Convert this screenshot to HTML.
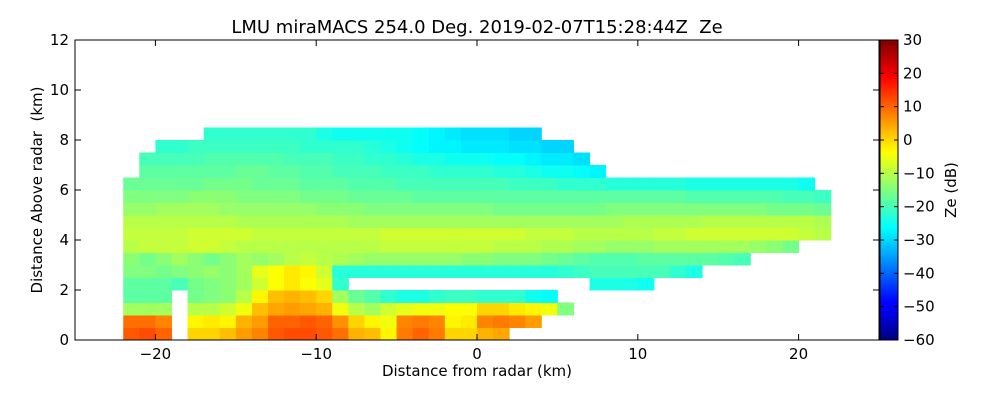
<!DOCTYPE html>
<html><head><meta charset="utf-8"><style>
html,body{margin:0;padding:0;background:#fff;}
svg{display:block;font-family:"DejaVu Sans","Liberation Sans",sans-serif;}
text{white-space:pre;}
</style></head><body>
<svg id="chart" width="1000" height="400" viewBox="0 0 1000 400">
<text x="477" y="33" font-size="18" text-anchor="middle" xml:space="preserve">LMU miraMACS 254.0 Deg. 2019-02-07T15:28:44Z  Ze</text>
<g id="cells"></g>
<rect x="75" y="40" width="804" height="300" fill="none" stroke="#000" stroke-width="1"/>
<g id="axes"></g>
<text x="477" y="376" font-size="15" text-anchor="middle">Distance from radar (km)</text>
<text transform="translate(42,190) rotate(-90)" font-size="15" text-anchor="middle" xml:space="preserve">Distance Above radar  (km)</text>
<defs><linearGradient id="jetg" x1="0" y1="1" x2="0" y2="0">
<stop offset="0" stop-color="#00007f"/><stop offset="0.11" stop-color="#0000ff"/><stop offset="0.125" stop-color="#0000ff"/><stop offset="0.34" stop-color="#00dfff"/><stop offset="0.375" stop-color="#00ffff"/><stop offset="0.5" stop-color="#7fff7f"/><stop offset="0.625" stop-color="#ffff00"/><stop offset="0.66" stop-color="#ffdf00"/><stop offset="0.875" stop-color="#ff0000"/><stop offset="1" stop-color="#7f0000"/>
</linearGradient></defs>
<rect x="880" y="40" width="18" height="300" fill="url(#jetg)" stroke="#000" stroke-width="1"/>
<g id="cbar"></g>
<text transform="translate(956,190) rotate(-90)" font-size="15" text-anchor="middle">Ze (dB)</text>
</svg>
<script>
const _ = null;
const xTicks = [-20,-10,0,10,20];
const yTicks = [0,2,4,6,8,10,12];
const cbTicks = [30,20,10,0,-10,-20,-30,-40,-50,-60];
const xStart = -22, dx = 1, dh = 0.5;
// rows bottom-up: h 0-0.5, 0.5-1, ...; columns x=-22..21
const row0 = [11,12,10,_,0,0,2,5,7,11,12,12,11,9,3,2,-3,8,10,8,0,0,3,4];
const row1 = [9,9,7,_,-3,-2,-3,3,5,10,10,11,10,6,0,-3,-5,7,8,7,-3,-2,7,8,7,5];
const row2 = [-12,-12,-12,_,-10,-10,-8,-5,2,4,5,4,3,-5,-10,-12,-8,-6,-5,-5,-4,-4,0,0,-2,-3,-5,-15];
const row3 = [-18,-18,-18,_,-16,-15,-14,-10,-3,2,3,2,0,-12,-17,-19,-22,-24,-24,-22,-21,-21,-22,-22,-22,-25,-26];
const row4 = [-18,-18,-18,-20,-16,-15,-14,-12,-8,-4,-2,-4,-6,-22,_,_,_,_,_,_,_,_,_,_,_,_,_,_,_,-24,-24,-24,-25];
const row5 = [-15,-15,-16,-15,-14,-13,-14,-12,-6,-4,-2,-3,-8,-23,-23,-23,-23,-23,-23,-23,-23,-23,-23,-23,-23,-23,-23,-22,-21,-20,-20,-20,-20,-20,-22,-24];
const row6 = [-14,-16,-14,-12,-14,-16,-14,-12,-13,-12,-10,-9,-10,-11,-12,-13,-13,-13,-13,-13,-13,-14,-14,-15,-15,-15,-16,-17,-18,-19,-19,-19,-18,-18,-18,-18,-18,-19,-20];
const row7 = [-10,-9,-9,-9,-8,-8,-9,-10,-10,-10,-10,-10,-10,-10,-10,-10,-9,-9,-9,-9,-9,-9,-9,-10,-10,-10,-11,-11,-12,-12,-13,-13,-13,-12,-12,-12,-12,-12,-12,-13,-14,-16];
const row8 = [-9,-9,-9,-9,-8,-8,-8,-8,-9,-9,-9,-9,-9,-9,-9,-9,-8,-8,-8,-8,-8,-8,-8,-8,-8,-9,-9,-9,-10,-10,-10,-10,-10,-9,-9,-8,-8,-8,-8,-8,-8,-8,-9,-10];
const row9 = [-10,-10,-10,-10,-10,-10,-10,-11,-11,-11,-11,-11,-11,-11,-12,-12,-12,-12,-12,-12,-12,-12,-12,-12,-12,-12,-12,-12,-12,-12,-12,-11,-11,-11,-11,-11,-10,-10,-10,-10,-10,-10,-10,-11];
const row10 = [-13,-13,-12,-12,-12,-12,-13,-13,-13,-13,-13,-13,-14,-14,-14,-15,-15,-15,-15,-15,-15,-15,-15,-16,-16,-16,-16,-16,-16,-16,-15,-15,-15,-15,-15,-15,-15,-15,-15,-15,-16,-16,-16,-17];
const row11 = [-15,-15,-15,-15,-14,-14,-14,-15,-15,-15,-15,-16,-16,-16,-17,-17,-17,-17,-18,-18,-18,-18,-18,-18,-18,-18,-18,-18,-18,-18,-18,-18,-18,-18,-18,-19,-19,-19,-19,-19,-19,-20,-20,-21];
const row12 = [-17,-17,-17,-17,-17,-16,-16,-16,-17,-17,-17,-18,-18,-18,-19,-19,-19,-20,-20,-20,-20,-20,-20,-20,-21,-21,-21,-22,-22,-22,-23,-23,-23,-23,-23,-24,-24,-24,-24,-24,-24,-24,-25];
const row13 = [_,-18,-18,-18,-18,-18,-18,-17,-17,-18,-18,-19,-19,-20,-20,-20,-21,-21,-21,-22,-22,-22,-22,-23,-23,-24,-25,-25,-26,-27];
const row14 = [_,-20,-20,-20,-20,-19,-19,-19,-19,-19,-20,-20,-20,-21,-21,-22,-22,-23,-24,-24,-25,-25,-25,-26,-26,-27,-28,-28,-29];
const row15 = [_,_,-22,-22,-21,-21,-21,-21,-21,-21,-21,-22,-22,-22,-22,-23,-24,-25,-26,-27,-27,-28,-28,-28,-29,-29,-30,-30];
const row16 = [_,_,_,_,_,-22,-22,-22,-22,-22,-22,-22,-24,-25,-25,-25,-25,-25,-26,-27,-28,-29,-29,-29,-30,-30];
const rows = [row0,row1,row2,row3,row4,row5,row6,row7,row8,row9,row10,row11,row12,row13,row14,row15,row16];

const X0=75, X1=879, Y0=340, Y1=40;
const xs = v => X0 + (v + 25) / 50 * (X1 - X0);
const ys = v => Y0 - v / 12 * (Y0 - Y1);
const cs = v => 340 - (v + 60) / 90 * 300;
const cl = v => Math.max(0, Math.min(1, v));
function jet(v){
  const t = (v + 60) / 90;
  const r = cl(1.5 - Math.abs(4*t - 3)), g = cl(1.5 - Math.abs(4*t - 2)), b = cl(1.5 - Math.abs(4*t - 1));
  return `rgb(${Math.round(r*255)},${Math.round(g*255)},${Math.round(b*255)})`;
}
const NS = "http://www.w3.org/2000/svg";
const cells = document.getElementById('cells');
rows.forEach((row, ri) => {
  row.forEach((val, ci) => {
    if (val === null || val === undefined) return;
    const x = xStart + ci * dx, h = ri * dh;
    const r = document.createElementNS(NS, 'rect');
    
    
    r.setAttribute('x', xs(x));
    r.setAttribute('y', ys(h + dh));
    r.setAttribute('width', xs(x + dx) - xs(x) + 0.5);
    r.setAttribute('height', ys(h) - ys(h + dh) + 0.5);
    r.setAttribute('fill', jet(val));
    cells.appendChild(r);
  });
});
const axes = document.getElementById('axes');
function line(g, x1, y1, x2, y2, name){
  const l = document.createElementNS(NS, 'line');
  
  
  l.setAttribute('x1', x1); l.setAttribute('y1', y1); l.setAttribute('x2', x2); l.setAttribute('y2', y2);
  l.setAttribute('stroke', '#000'); l.setAttribute('stroke-width', '1');
  g.appendChild(l);
}
function text(g, x, y, s, anchor, name){
  const t = document.createElementNS(NS, 'text');
  
  
  t.setAttribute('x', x); t.setAttribute('y', y);
  t.setAttribute('font-size', '15'); t.setAttribute('text-anchor', anchor);
  t.textContent = s;
  g.appendChild(t);
}
const fmt = v => v < 0 ? '\u2212' + Math.abs(v) : String(v);
xTicks.forEach(v => {
  const x = xs(v);
  line(axes, x, Y0, x, Y0 - 6, 'x-tick');
  line(axes, x, Y1, x, Y1 + 6, 'x-tick-top');
  text(axes, x, Y0 + 19, fmt(v), 'middle', 'x-tick-label');
});
yTicks.forEach(v => {
  const y = ys(v);
  line(axes, X0, y, X0 + 6, y, 'y-tick');
  line(axes, X1, y, X1 - 6, y, 'y-tick-right');
  text(axes, X0 - 6, y + 5, fmt(v), 'end', 'y-tick-label');
});
const cbar = document.getElementById('cbar');
cbTicks.forEach(v => {
  const y = cs(v);
  line(cbar, 880, y, 884, y, 'colorbar-tick');
  line(cbar, 898, y, 894, y, 'colorbar-tick-right');
  text(cbar, 903, y + 5, fmt(v), 'start', 'colorbar-tick-label');
});
</script>
</body></html>
